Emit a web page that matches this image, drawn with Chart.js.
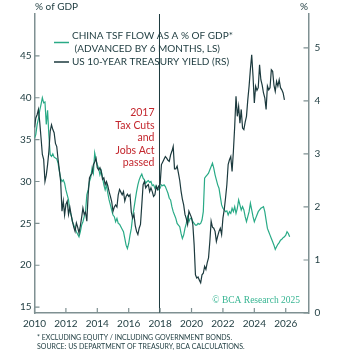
<!DOCTYPE html>
<html>
<head>
<meta charset="utf-8">
<script src="https://cdn.jsdelivr.net/npm/chart.js@4.4.1/dist/chart.umd.min.js"></script>
<style>
  html, body { margin: 0; padding: 0; background: #fff; }
</style>
</head>
<body>
<canvas id="tsfChart" width="345" height="355"></canvas>
<script>
// monthly series, first point = Jan 2010
const startYear = 2010;

// China total social financing flow, % of GDP (advanced by 6 months)
const tsfFlow = [
  35.2, 35.6, 36.8, 37.5, 38.5, 39.2, 40.0, 39.4, 39.5, 36.8, 38.5, 35.5,
  33.2, 33.0, 33.3, 32.9, 32.8, 32.7, 32.2, 31.2, 30.4, 30.0, 30.2, 29.8,
  29.0, 28.4, 27.8, 26.4, 26.0, 25.2, 24.8, 24.4, 24.0, 23.7, 23.4, 24.0,
  24.8, 25.2, 25.8, 26.4, 28.4, 29.0, 30.0, 30.5, 31.6, 31.0, 33.4, 32.6,
  32.0, 31.6, 30.8, 31.3, 30.5, 29.6, 29.0, 29.6, 28.6, 27.8, 27.2, 26.6,
  26.0, 25.8, 25.2, 25.6, 25.0, 24.9, 24.6, 24.3, 24.0, 23.2, 22.4, 22.0,
  22.6, 23.6, 24.4, 25.8, 26.8, 27.8, 28.8, 29.6, 30.2, 30.6, 30.9, 30.4,
  30.2, 29.8, 30.0, 30.1, 29.9, 30.0, 29.5, 29.6, 29.2, 29.5, 29.2, 29.0,
  29.2, 29.6, 29.5, 29.6, 29.4, 29.0, 28.6, 28.0, 27.8, 27.0, 26.4, 26.0,
  25.6, 25.0, 24.8, 24.6, 23.8, 23.2, 23.6, 24.4, 25.0, 25.8, 25.2, 25.6,
  25.6, 25.2, 25.0, 24.8, 24.8, 25.0, 24.9, 25.0, 25.4, 26.4, 30.4, 30.6,
  30.8, 31.0, 31.4, 31.8, 32.2, 31.6, 30.8, 30.2, 29.6, 29.2, 28.2, 27.2,
  26.8, 26.6, 26.4, 26.5, 26.0, 26.4, 26.2, 26.8, 26.4, 27.0, 26.2, 26.8,
  27.8, 27.2, 26.6, 27.0, 26.6, 25.8, 25.2, 25.8, 26.4, 27.4, 26.6, 25.8,
  25.2, 25.6, 26.0, 26.4, 26.6, 26.8, 26.9, 27.0, 26.4, 25.4, 24.4, 24.0,
  23.6, 23.2, 22.8, 22.4, 21.9, 22.2, 22.5, 22.7, 23.0, 23.1, 23.3, 23.4,
  23.6, 24.0, 23.8, 23.4
];

// US 10-year treasury yield, %
const usYield = [
  3.50, 3.68, 3.74, 3.84, 3.60, 3.30, 2.99, 2.90, 2.48, 2.60, 2.80, 3.05,
  3.43, 3.55, 3.46, 3.40, 3.20, 3.14, 2.90, 2.70, 2.48, 1.92, 2.11, 1.85,
  2.05, 2.11, 1.86, 2.00, 1.85, 1.73, 1.62, 1.54, 1.70, 1.62, 1.51, 1.64,
  1.80, 1.98, 1.86, 1.90, 1.73, 2.23, 2.55, 2.60, 2.63, 2.80, 2.85, 2.92,
  2.74, 2.70, 2.74, 2.67, 2.52, 2.55, 2.42, 2.48, 2.40, 2.29, 2.20, 2.10,
  1.92, 2.00, 2.04, 2.00, 2.23, 2.33, 2.28, 2.23, 2.29, 2.11, 2.20, 2.24,
  2.20, 2.23, 1.90, 1.79, 1.86, 1.65, 1.54, 1.48, 1.60, 1.67, 2.04, 2.42,
  2.48, 2.36, 2.40, 2.42, 2.29, 2.36, 2.29, 2.20, 2.23, 2.39, 2.33, 2.40,
  2.42, 2.80, 2.85, 2.90, 2.95, 2.92, 2.88, 2.86, 2.98, 3.05, 3.14, 2.72,
  2.72, 2.77, 2.64, 2.50, 2.30, 2.15, 2.04, 1.86, 1.78, 1.67, 1.92, 1.86,
  1.80, 1.67, 1.29, 0.72, 0.66, 0.68, 0.62, 0.57, 0.72, 0.75, 0.88, 0.82,
  0.95, 1.04, 1.35, 1.73, 1.62, 1.60, 1.54, 1.35, 1.45, 1.54, 1.60, 1.48,
  1.79, 1.95, 2.17, 2.42, 2.80, 2.89, 2.95, 2.67, 3.05, 3.52, 4.09, 3.71,
  3.90, 3.58, 3.84, 3.49, 3.46, 3.60, 3.71, 4.02, 4.28, 4.60, 4.87, 4.47,
  3.96, 4.28, 4.20, 4.25, 4.68, 4.40, 4.30, 4.15, 4.06, 3.84, 4.28, 4.21,
  4.25, 4.59, 4.56, 4.30, 4.18, 4.37, 4.28, 4.40, 4.25, 4.21, 4.15, 4.02
];

const yearTicks = [2010, 2012, 2014, 2016, 2018, 2020, 2022, 2024, 2026];
const gdpTicks = [15, 20, 25, 30, 35, 40, 45];
const yieldTicks = [0, 1, 2, 3, 4, 5];

// Dec 2017
const taxActDate = 2017.96;
const taxActNote = ['2017', 'Tax Cuts', 'and', 'Jobs Act', 'passed'];

const axisGrey = '#7f9092';
const ink = '#1c3a3e';
const tsfColor = '#29aa86';
const noteRed = '#c3262d';
const sans = 'Lato, "Open Sans", sans-serif';

const toPoints = (arr) => arr.map((v, i) => ({ x: startYear + i / 12, y: v }));

const decor = {
  id: 'decor',
  afterDatasetsDraw(chart) {
    const { ctx, chartArea: a, scales } = chart;
    const x = scales.x.getPixelForValue(taxActDate);
    ctx.save();
    ctx.strokeStyle = ink;
    ctx.lineWidth = 1;
    ctx.beginPath();
    ctx.moveTo(x, a.top);
    ctx.lineTo(x, a.bottom);
    ctx.stroke();
    ctx.restore();
  },
  afterDraw(chart) {
    const { ctx, chartArea: a, scales } = chart;
    ctx.save();

    // tick marks point inwards
    ctx.strokeStyle = axisGrey;
    ctx.lineWidth = 1.2;
    ctx.beginPath();
    gdpTicks.forEach(v => {
      const y = scales.y.getPixelForValue(v);
      ctx.moveTo(a.left, y); ctx.lineTo(a.left + 5, y);
    });
    yieldTicks.forEach(v => {
      const y = scales.y1.getPixelForValue(v);
      ctx.moveTo(a.right, y); ctx.lineTo(a.right - 5, y);
    });
    yearTicks.forEach(v => {
      const x = scales.x.getPixelForValue(v);
      ctx.moveTo(x, a.bottom); ctx.lineTo(x, a.bottom - 5);
    });
    ctx.stroke();

    // axis units
    ctx.fillStyle = ink;
    ctx.font = '10px ' + sans;
    ctx.textBaseline = 'middle';
    ctx.textAlign = 'left';
    ctx.fillText('% of GDP', 35, 7);
    ctx.textAlign = 'right';
    ctx.fillText('%', 308, 7);

    // legend
    ctx.textAlign = 'left';
    ctx.font = '10px ' + sans;
    ctx.fillText('CHINA TSF FLOW AS A % OF GDP*', 72, 36);
    ctx.fillText(' (ADVANCED BY 6 MONTHS, LS)', 72, 49);
    ctx.fillText('US 10-YEAR TREASURY YIELD (RS)', 72, 62);
    ctx.lineWidth = 1.5;
    ctx.strokeStyle = tsfColor;
    ctx.beginPath(); ctx.moveTo(54, 42.5); ctx.lineTo(69, 42.5); ctx.stroke();
    ctx.strokeStyle = ink;
    ctx.beginPath(); ctx.moveTo(54, 62); ctx.lineTo(69, 62); ctx.stroke();

    // annotation next to the event line
    ctx.fillStyle = noteRed;
    ctx.font = '10.5px ' + sans;
    ctx.textAlign = 'right';
    const noteX = scales.x.getPixelForValue(taxActDate) - 5;
    taxActNote.forEach((t, i) => ctx.fillText(t, noteX, 113 + i * 12.5));

    // watermark
    ctx.fillStyle = '#36b592';
    ctx.font = '9.5px "Liberation Serif", "DejaVu Serif", serif';
    ctx.fillText('\u00A9 BCA Research 2025', 300, 300);

    // footnotes
    ctx.fillStyle = ink;
    ctx.font = '7px ' + sans;
    ctx.textAlign = 'left';
    ctx.fillText('* EXCLUDING EQUITY / INCLUDING GOVERNMENT BONDS.', 37, 337.5);
    ctx.fillText('SOURCE: US DEPARTMENT OF TREASURY, BCA CALCULATIONS.', 37, 346.5);

    ctx.restore();
  }
};

new Chart(document.getElementById('tsfChart'), {
  type: 'line',
  data: {
    datasets: [
      {
        label: 'US 10-YEAR TREASURY YIELD (RS)',
        data: toPoints(usYield),
        yAxisID: 'y1',
        borderColor: ink,
        borderWidth: 1.2,
        pointRadius: 0,
        tension: 0
      },
      {
        label: 'CHINA TSF FLOW AS A % OF GDP* (ADVANCED BY 6 MONTHS, LS)',
        data: toPoints(tsfFlow),
        yAxisID: 'y',
        borderColor: tsfColor,
        borderWidth: 1.2,
        pointRadius: 0,
        tension: 0
      }
    ]
  },
  options: {
    responsive: false,
    animation: false,
    layout: { padding: { top: 14, left: 0, right: 0, bottom: 0 } },
    plugins: { legend: { display: false }, tooltip: { enabled: false } },
    scales: {
      x: {
        type: 'linear',
        min: 2010,
        max: 2027.45,
        grid: { display: false, drawTicks: false },
        border: { color: axisGrey, width: 1.5 },
        afterBuildTicks: (s) => { s.ticks = yearTicks.map(v => ({ value: v })); },
        afterFit: (s) => { s.height = 42; },
        ticks: {
          color: ink,
          font: { family: sans, size: 10 },
          padding: 5,
          maxRotation: 0,
          callback: (v) => String(v)
        }
      },
      y: {
        position: 'left',
        min: 14.3,
        max: 50,
        grid: { display: false, drawTicks: false },
        border: { color: axisGrey, width: 1.5 },
        afterBuildTicks: (s) => { s.ticks = gdpTicks.map(v => ({ value: v })); },
        afterFit: (s) => { s.width = 34.5; },
        ticks: { color: ink, font: { family: sans, size: 10 }, padding: 3 }
      },
      y1: {
        position: 'right',
        min: 0,
        max: 5.64,
        grid: { display: false, drawTicks: false },
        border: { color: axisGrey, width: 1.5 },
        afterBuildTicks: (s) => { s.ticks = yieldTicks.map(v => ({ value: v })); },
        afterFit: (s) => { s.width = 36.5; },
        ticks: { color: ink, font: { family: sans, size: 10 }, padding: 6 }
      }
    }
  },
  plugins: [decor]
});
</script>
</body>
</html>
